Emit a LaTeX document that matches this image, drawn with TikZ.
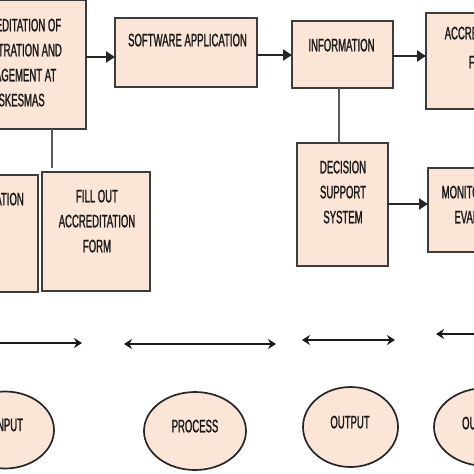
\documentclass[tikz,border=0pt]{standalone}
\usepackage{fontspec}
\newfontfamily\diag[FakeStretch=0.53,FakeBold=1.2]{Liberation Sans}
\usetikzlibrary{arrows.meta,shapes.geometric,shadows}
\definecolor{peach}{RGB}{251,229,214}
\definecolor{edge}{RGB}{60,60,60}
\tikzset{
  box/.style={draw=edge, line width=1.3pt, fill=peach, inner sep=0pt, outer sep=0pt,
    drop shadow={shadow xshift=0.6pt, shadow yshift=-1.4pt, fill=black!75, opacity=0.9}},
  oval/.style={ellipse, draw=black!85, line width=1.7pt, fill=peach, inner sep=0pt, outer sep=0pt},
  txt/.style={font=\diag\fontsize{18}{25}\selectfont, align=center, anchor=north, inner sep=0pt, text=black!90},
  arr/.style={draw=black!85, line width=2.8pt, -{Triangle[length=9pt,width=11pt]}},
  link/.style={draw=black!65, line width=1.1pt},
  dbl/.style={draw=black!90, line width=2pt, {Stealth[length=8pt,width=10pt]}-{Stealth[length=8pt,width=10pt]}}
}
\begin{document}
\begin{tikzpicture}[x=1pt,y=-1pt]
\useasboundingbox (0,0) rectangle (474,474);
\clip (0,0) rectangle (474,474);
\fill[white] (0,0) rectangle (474,474);
% boxes
\node[box, minimum width=142pt, minimum height=128.5pt] (b1) at (15,64.75) {};
\node[box, minimum width=142pt, minimum height=69pt] (sw) at (186,52.5) {};
\node[box, minimum width=101pt, minimum height=67pt] (info) at (342.5,54.5) {};
\node[box, minimum width=114pt, minimum height=96pt] (acc) at (483,61) {};
\node[box, minimum width=91pt, minimum height=123pt] (dec) at (342.5,204.5) {};
\node[box, minimum width=112pt, minimum height=84pt] (mon) at (484,210) {};
\node[box, minimum width=108pt, minimum height=119pt] (fill) at (96,231.5) {};
\node[box, minimum width=108pt, minimum height=117pt] (reg) at (-16,233.5) {};
% texts
\node[txt] (t1) at (15,18.5) {ACCREDITATION OF\\REGISTRATION AND\\MANAGEMENT AT\\PUSKESMAS};
\node[txt] (t2) at (187.5,33.5) {SOFTWARE APPLICATION};
\node[txt] (t3) at (341.5,38.5) {INFORMATION};
\node[txt, font=\diag\fontsize{18}{29}\selectfont] (t4) at (483,26.5) {ACCREDITATION\\FORM};
\node[txt] (t5) at (343,160.5) {DECISION\\SUPPORT\\SYSTEM};
\node[txt] (t6) at (484,185.5) {MONITORING AND\\EVALUATION};
\node[txt] (t7) at (97,189.5) {FILL OUT\\ACCREDITATION\\FORM};
\node[txt, anchor=north east] (t8) at (24,192.5) {REGISTRATION};
% connectors
\draw[arr] (b1.east |- 0,57) -- (sw.west |- 0,57);
\draw[arr] (sw.east |- 0,55) -- (info.west |- 0,55);
\draw[arr] (info.east |- 0,56) -- (acc.west |- 0,56);
\draw[arr] (dec.east |- 0,204) -- (mon.west |- 0,204);
\draw[link] (info.south -| 339,0) -- (dec.north -| 339,0);
\coordinate (f1) at (52,168);
\draw[link] (b1.south -| 52,0) -- (f1);
% bottom arrows
\coordinate (a1s) at (-20,343); \coordinate (a1e) at (82,343);
\coordinate (a2s) at (124,344); \coordinate (a2e) at (276,344);
\coordinate (a3s) at (302,340); \coordinate (a3e) at (395,340);
\coordinate (a4s) at (436,334); \coordinate (a4e) at (520,334);
\draw[dbl] (a1s) -- (a1e);
\draw[dbl] (a2s) -- (a2e);
\draw[dbl] (a3s) -- (a3e);
\draw[dbl] (a4s) -- (a4e);
% ellipses
\node[oval, minimum width=98pt, minimum height=77pt] (inp) at (5,430) {};
\node[oval, minimum width=102pt, minimum height=78pt] (pro) at (195,431) {};
\node[oval, minimum width=95pt, minimum height=80pt] (out) at (350.5,427) {};
\node[oval, minimum width=104pt, minimum height=78pt] (oc) at (486,427) {};
\node[txt] (e1) at (8.7,418.5) {INPUT};
\node[txt] (e2) at (195,419.5) {PROCESS};
\node[txt] (e3) at (350,415.5) {OUTPUT};
\node[txt] (e4) at (486.5,416.5) {OUTCOME};
\end{tikzpicture}
\end{document}
